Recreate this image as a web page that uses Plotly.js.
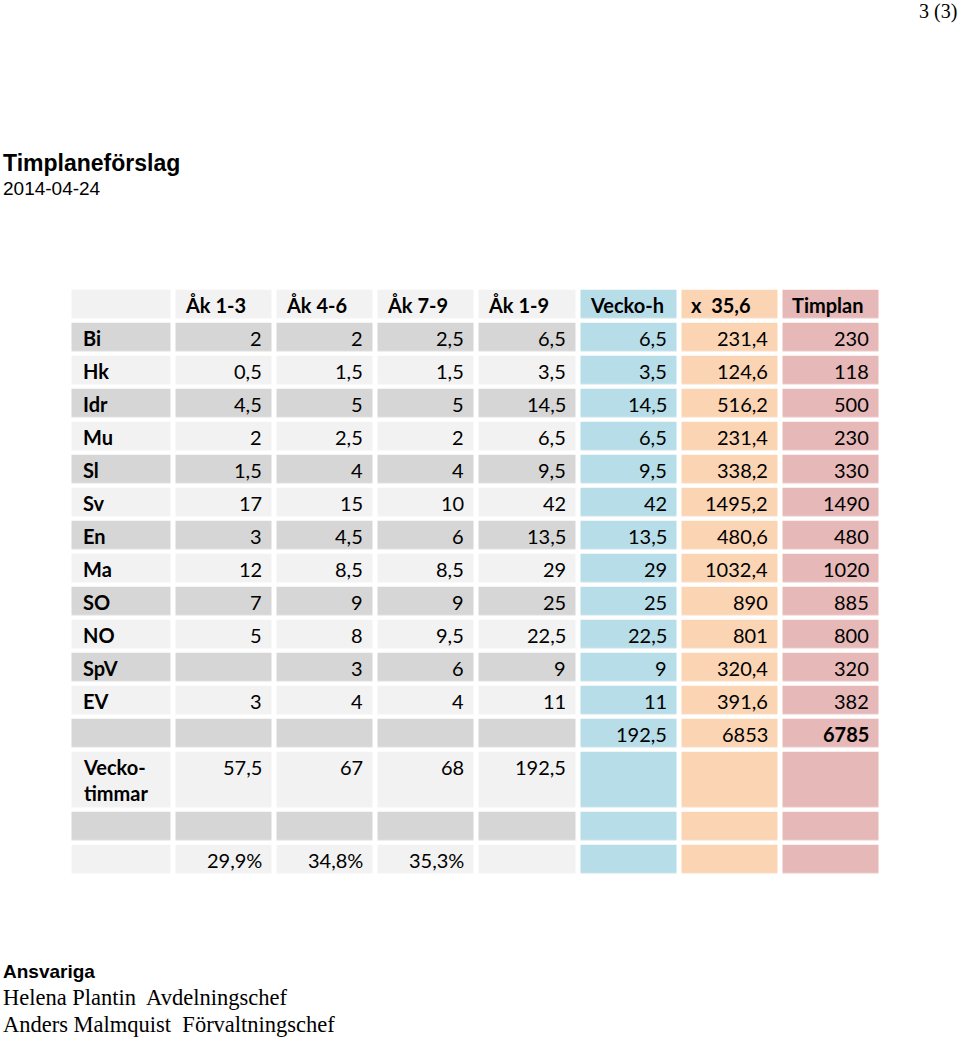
<!DOCTYPE html>
<html><head><meta charset="utf-8">
<script src="https://cdn.plot.ly/plotly-3.0.1.min.js"></script>
<style>html,body{margin:0;padding:0;background:#fff;} #chart{width:960px;height:1039px;}</style>
</head><body><div id="chart"></div>
<script>
// ---- data ----
const headers = ["", "Åk 1-3", "Åk 4-6", "Åk 7-9", "Åk 1-9", "Vecko-h", "x\u00a0 35,6", "Timplan"];
const subjects = ["Bi", "Hk", "Idr", "Mu", "Sl", "Sv", "En", "Ma", "SO", "NO", "SpV", "EV"];
const ak13 = [2, 0.5, 4.5, 2, 1.5, 17, 3, 12, 7, 5, null, 3];
const ak46 = [2, 1.5, 5, 2.5, 4, 15, 4.5, 8.5, 9, 8, 3, 4];
const ak79 = [2.5, 1.5, 5, 2, 4, 10, 6, 8.5, 9, 9.5, 6, 4];
const ak19 = [6.5, 3.5, 14.5, 6.5, 9.5, 42, 13.5, 29, 25, 22.5, 9, 11];
const veckoH = [6.5, 3.5, 14.5, 6.5, 9.5, 42, 13.5, 29, 25, 22.5, 9, 11];
const x356 = [231.4, 124.6, 516.2, 231.4, 338.2, 1495.2, 480.6, 1032.4, 890, 801, 320.4, 391.6];
const timplan = [230, 118, 500, 230, 330, 1490, 480, 1020, 885, 800, 320, 382];
const totals = [192.5, 6853, 6785];           // Vecko-h, x 35,6, Timplan
const veckotimmarLabel = "Vecko-<br>timmar";
const veckotimmar = [57.5, 67, 68, 192.5];     // Åk 1-3, 4-6, 7-9, 1-9
const percent = [29.9, 34.8, 35.3];

// ---- layout constants (style) ----
const W = 960, H = 1039;
const colLeft = 69.5, colRight = 881.5;
const firstColUnits = 104 / 101.14;
const tableTop = 287.75, rowStep = 33, tallStep = 60;
const xGap = 5, yGap = 4.5;
const cellFont = {family: "Lato, 'Open Sans', sans-serif", size: 20, color: "#000"};
const palette = ["#f2f2f2", "#d6d6d6", "#b7dde8", "#fbd4b4", "#e6b8b7"];

const fmt = v => (v === null || v === undefined) ? "" : String(v).replace(".", ",");

// ---- build rows ----
const nCols = 8;
const rows = [];
const emptyRow = () => Array.from({length: nCols}, () => null);
// header
rows.push(headers.map(h => h ? {t: h, bold: true, align: "left"} : null));
subjects.forEach((s, i) => {
  const r = emptyRow();
  r[0] = {t: s, bold: true, align: "left", lab: true};
  [ak13, ak46, ak79, ak19, veckoH, x356, timplan].forEach((arr, k) => {
    const v = fmt(arr[i]);
    if (v) r[k + 1] = {t: v, align: "right"};
  });
  rows.push(r);
});
// totals row
{
  const r = emptyRow();
  r[5] = {t: fmt(totals[0]), align: "right"};
  r[6] = {t: fmt(totals[1]), align: "right"};
  r[7] = {t: fmt(totals[2]), align: "right", bold: true};
  rows.push(r);
}
// Veckotimmar row (tall)
const tallRow = rows.length;
{
  const r = emptyRow();
  r[0] = {t: veckotimmarLabel, bold: true, align: "left", lab: true};
  veckotimmar.forEach((v, k) => { r[k + 1] = {t: fmt(v), align: "right", top: true}; });
  rows.push(r);
}
rows.push(emptyRow());
{
  const r = emptyRow();
  percent.forEach((v, k) => { r[k + 1] = {t: fmt(v) + "%", align: "right"}; });
  rows.push(r);
}

// row / column edges in "cell units"
const yEdges = [0];
rows.forEach((r, i) => yEdges.push(yEdges[i] + (i === tallRow ? tallStep / rowStep : 1)));
const yTotal = yEdges[yEdges.length - 1];
const xEdges = [0];
for (let c = 0; c < nCols; c++) xEdges.push(xEdges[c] + (c === 0 ? firstColUnits : 1));
const xTotal = xEdges[nCols];

const z = rows.map((r, i) => Array.from({length: nCols}, (_, c) => c < 5 ? (i % 2) : (c - 3)));

const trace = {
  type: "heatmap",
  x: xEdges, y: yEdges, z: z,
  zmin: 0, zmax: 4,
  colorscale: palette.map((c, i) => [i / (palette.length - 1), c]),
  showscale: false, xgap: xGap, ygap: yGap, hoverinfo: "skip"
};

const annotations = [];
rows.forEach((r, i) => {
  const yc = (yEdges[i] + yEdges[i + 1]) / 2;
  r.forEach((cell, c) => {
    if (!cell) return;
    const right = cell.align === "right";
    annotations.push({
      xref: "x", yref: "y",
      x: right ? xEdges[c + 1] : xEdges[c], y: yc,
      xanchor: right ? "right" : "left", yanchor: "middle",
      xshift: right ? -(xGap / 2 + 8) : (xGap / 2 + (cell.lab ? 9 : 7)),
      yshift: (cell.top ? 13 : 0) - 0.5,
      text: cell.bold ? "<b>" + cell.t + "</b>" : cell.t,
      showarrow: false, font: cellFont, align: "left"
    });
  });
});

const pageText = (txt, px, py, font, anchor) => ({
  xref: "paper", yref: "paper", x: px / W, y: 1 - py / H,
  xanchor: anchor || "left", yanchor: "middle", text: txt, showarrow: false, font: font
});
const sans = "'Liberation Sans', Arial, sans-serif";
const serif = "'Liberation Serif', 'Times New Roman', serif";
annotations.push(pageText("3 (3)", 959, 12, {family: serif, size: 20, color: "#000"}, "right"));
annotations.push(pageText("<b>Timplaneförslag</b>", 1, 163, {family: sans, size: 23, color: "#000"}));
annotations.push(pageText("2014-04-24", 1, 188, {family: sans, size: 19, color: "#000"}));
annotations.push(pageText("<b>Ansvariga</b>", 1, 971, {family: sans, size: 19, color: "#000"}));
annotations.push(pageText("Helena Plantin\u00a0 Avdelningschef", 1, 997, {family: serif, size: 22.5, color: "#000"}));
annotations.push(pageText("Anders Malmquist\u00a0 Förvaltningschef", 1, 1024, {family: serif, size: 22.5, color: "#000"}));

const hidden = {showgrid: false, zeroline: false, showticklabels: false, ticks: "", showline: false, fixedrange: true};
const layout = {
  width: W, height: H,
  margin: {l: 0, r: 0, t: 0, b: 0, pad: 0},
  paper_bgcolor: "#fff", plot_bgcolor: "#fff",
  xaxis: Object.assign({}, hidden, {range: [0, xTotal], domain: [colLeft / W, colRight / W]}),
  yaxis: Object.assign({}, hidden, {range: [yTotal, 0], domain: [1 - (tableTop + yTotal * rowStep) / H, 1 - tableTop / H]}),
  annotations: annotations,
  showlegend: false
};
Plotly.newPlot("chart", [trace], layout, {displayModeBar: false, staticPlot: true});
</script>
</body></html>
